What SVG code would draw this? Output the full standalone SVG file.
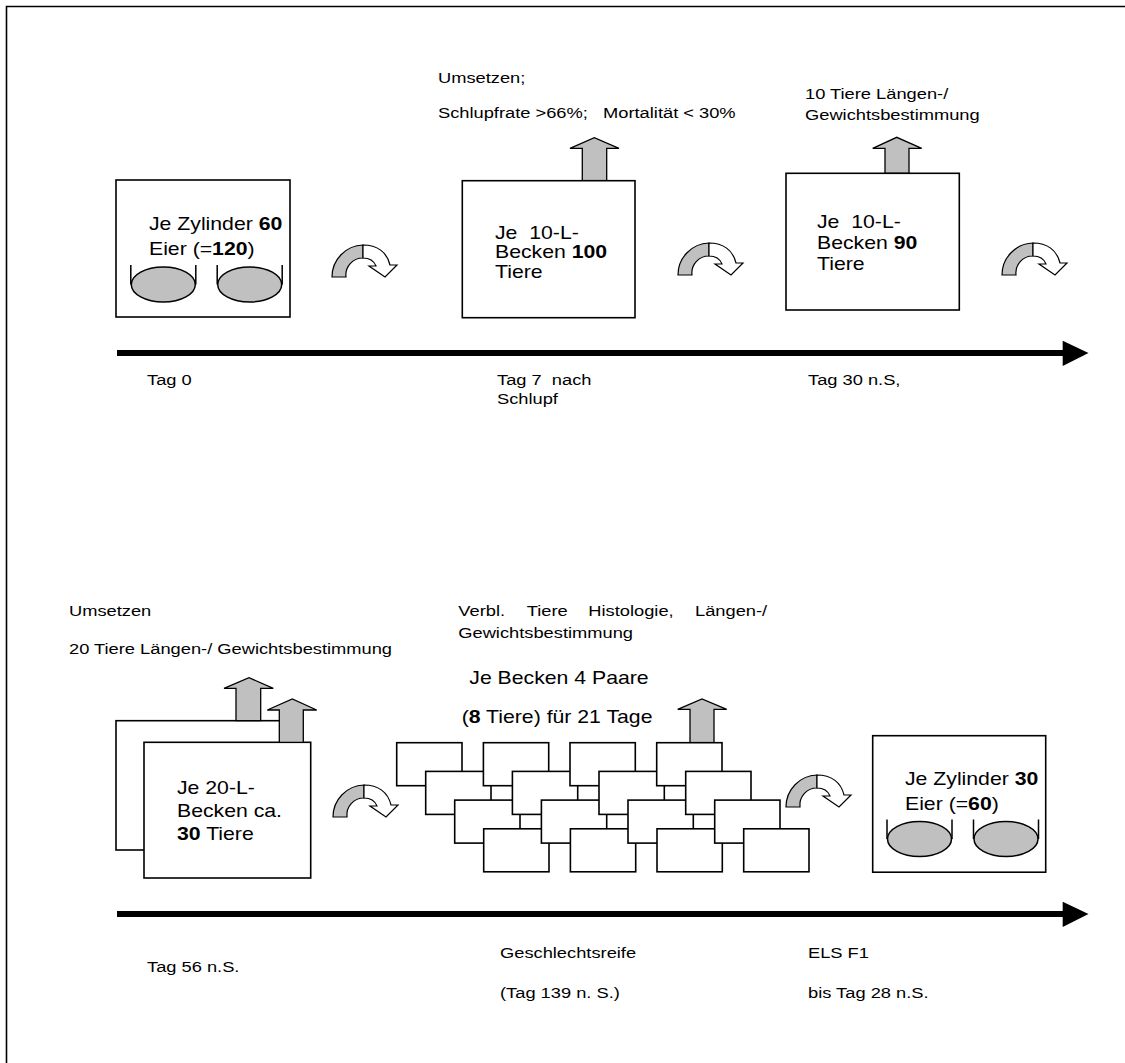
<svg xmlns="http://www.w3.org/2000/svg" xmlns:xlink="http://www.w3.org/1999/xlink" width="1125" height="1063" viewBox="0 0 1125 1063">
<style>
text{font-family:"Liberation Sans",Arial,sans-serif;fill:#000;white-space:pre}
.s{font-size:15.5px}
.b{font-size:18px}
.bx{fill:#fff;stroke:#000;stroke-width:1.6}
.up{fill:#c0c0c0;stroke:#000;stroke-width:1.3;stroke-linejoin:miter}
.egg{fill:#c0c0c0;stroke:#000;stroke-width:1.5}
.wall{stroke:#000;stroke-width:1.5;fill:none}
.tl{stroke:#000;stroke-width:6}
</style>
<defs>
<g id="ca">
<path d="M0,0 A32,32 0 0 1 31,-32 L31,-19 A17,17 0 0 0 14,0 Z" fill="#c0c0c0" stroke="#000" stroke-width="1.2"/>
<path d="M31,-32 C45,-32 55,-25 58,-12 L65,-12 L53,0 L37,-11 L44,-11 C42,-16 37,-19 31,-19 Z" fill="#fff" stroke="#000" stroke-width="1.2" stroke-linejoin="miter"/>
</g>
<g id="cyl">
<ellipse cx="0" cy="16.5" rx="32" ry="17.5" class="egg"/>
<path d="M-32.5,-3 V16.5 M32.5,-3 V16.5" class="wall"/>
</g>
</defs>
<rect width="1125" height="1063" fill="#fff"/>
<path d="M6.5,1063 V6.5 H1125" fill="none" stroke="#000" stroke-width="1.6"/>

<g id="connectors">
<line x1="117" y1="353" x2="1064" y2="353" class="tl"/>
<polygon points="1062.7,340.7 1088.5,353 1062.7,366"/>
<line x1="117" y1="914" x2="1064" y2="914" class="tl"/>
<polygon points="1062.7,901.7 1088.5,914 1062.7,927"/>
<use xlink:href="#ca" transform="translate(332,277)"/>
<use xlink:href="#ca" transform="translate(678,275)"/>
<use xlink:href="#ca" transform="translate(1002,275)"/>
<use xlink:href="#ca" transform="translate(333,817)"/>
<use xlink:href="#ca" transform="translate(786,807)"/>
</g>

<g id="node-tag0">
<rect x="116" y="180" width="174" height="137" class="bx"/>
<text class="b" transform="matrix(1.18 0 0 1 149 230)">Je Zylinder <tspan font-weight="bold">60</tspan></text>
<text class="b" transform="matrix(1.18 0 0 1 149 255)">Eier (=<tspan font-weight="bold">120</tspan>)</text>
<use xlink:href="#cyl" transform="translate(163.3,268)"/>
<use xlink:href="#cyl" transform="translate(249.7,268)"/>
<text class="s" transform="matrix(1.18 0 0 1 147 385)">Tag 0</text>
</g>

<g id="node-tag7">
<polygon class="up" points="582.3,180.7 582.3,148.3 570,148.3 594.3,137.7 619,148.3 606.7,148.3 606.7,180.7"/>
<rect x="462.3" y="180.7" width="172.7" height="137" class="bx"/>
<text class="b" transform="matrix(1.18 0 0 1 495 239)">Je  10-L-</text>
<text class="b" transform="matrix(1.18 0 0 1 495 258)">Becken <tspan font-weight="bold">100</tspan></text>
<text class="b" transform="matrix(1.18 0 0 1 495 278)">Tiere</text>
<text class="s" transform="matrix(1.18 0 0 1 438 83)">Umsetzen;</text>
<text class="s" transform="matrix(1.18 0 0 1 438 118)">Schlupfrate &gt;66%;   Mortalität &lt; 30%</text>
<text class="s" transform="matrix(1.18 0 0 1 497 385)">Tag 7  nach</text>
<text class="s" transform="matrix(1.18 0 0 1 497 404)">Schlupf</text>
</g>

<g id="node-tag30">
<polygon class="up" points="885,173.3 885,148.3 872.7,148.3 896.7,137.3 921.7,148.3 909,148.3 909,173.3"/>
<rect x="786" y="173.3" width="173.3" height="136.7" class="bx"/>
<text class="b" transform="matrix(1.18 0 0 1 817 228)">Je  10-L-</text>
<text class="b" transform="matrix(1.18 0 0 1 817 249)">Becken <tspan font-weight="bold">90</tspan></text>
<text class="b" transform="matrix(1.18 0 0 1 817 270)">Tiere</text>
<text class="s" transform="matrix(1.18 0 0 1 805 99)">10 Tiere Längen-/</text>
<text class="s" transform="matrix(1.18 0 0 1 805 120)">Gewichtsbestimmung</text>
<text class="s" transform="matrix(1.18 0 0 1 808 385)">Tag 30 n.S,</text>
</g>

<g id="node-tag56">
<rect x="116" y="720.7" width="164" height="129.3" class="bx"/>
<polygon class="up" points="236,720.7 236,688.3 224,688.3 249,677.7 273.3,688.3 260.7,688.3 260.7,720.7"/>
<rect x="144" y="742.3" width="166.7" height="135.7" class="bx"/>
<polygon class="up" points="279.3,742.3 279.3,710 267.3,710 292.3,699 316.7,710 303.3,710 303.3,742.3"/>
<text class="b" transform="matrix(1.18 0 0 1 177 794)">Je 20-L-</text>
<text class="b" transform="matrix(1.18 0 0 1 177 817)">Becken ca.</text>
<text class="b" transform="matrix(1.18 0 0 1 177 840)"><tspan font-weight="bold">30</tspan> Tiere</text>
<text class="s" transform="matrix(1.18 0 0 1 69 616)">Umsetzen</text>
<text class="s" transform="matrix(1.18 0 0 1 69 654)">20 Tiere Längen-/ Gewichtsbestimmung</text>
<text class="s" transform="matrix(1.18 0 0 1 147 972)">Tag 56 n.S.</text>
</g>

<g id="node-geschlechtsreife">
<polygon class="up" points="690,742.7 690,709.3 677.7,709.3 702,699 726.7,709.3 714,709.3 714,742.7"/>
<g class="bx">
<rect x="396.7" y="742.7" width="65.3" height="43"/>
<rect x="425.7" y="771.4" width="65.3" height="43"/>
<rect x="454.7" y="800.1" width="65.3" height="43"/>
<rect x="483.7" y="828.8" width="65.3" height="43"/>
<rect x="483.4" y="742.7" width="65.3" height="43"/>
<rect x="512.4" y="771.4" width="65.3" height="43"/>
<rect x="541.4" y="800.1" width="65.3" height="43"/>
<rect x="570.4" y="828.8" width="65.3" height="43"/>
<rect x="570" y="742.7" width="65.3" height="43"/>
<rect x="599" y="771.4" width="65.3" height="43"/>
<rect x="628" y="800.1" width="65.3" height="43"/>
<rect x="657" y="828.8" width="65.3" height="43"/>
<rect x="656.7" y="742.7" width="65.3" height="43"/>
<rect x="685.7" y="771.4" width="65.3" height="43"/>
<rect x="714.7" y="800.1" width="65.3" height="43"/>
<rect x="743.7" y="828.8" width="65.3" height="43"/>
</g>
<text class="s" transform="matrix(1.18 0 0 1 458.3 616)">Verbl.</text>
<text class="s" transform="matrix(1.18 0 0 1 526.7 616)">Tiere</text>
<text class="s" transform="matrix(1.18 0 0 1 588.3 616)">Histologie,</text>
<text class="s" transform="matrix(1.18 0 0 1 695 616)">Längen-/</text>
<text class="s" transform="matrix(1.18 0 0 1 458.3 638)">Gewichtsbestimmung</text>
<text class="b" transform="matrix(1.18 0 0 1 469.3 684)">Je Becken 4 Paare</text>
<text class="b" transform="matrix(1.18 0 0 1 461.7 723)">(<tspan font-weight="bold">8</tspan> Tiere) für 21 Tage</text>
<text class="s" transform="matrix(1.18 0 0 1 500 958)">Geschlechtsreife</text>
<text class="s" transform="matrix(1.18 0 0 1 500 998)">(Tag 139 n. S.)</text>
</g>

<g id="node-els-f1">
<rect x="872.7" y="735.7" width="173" height="136.5" class="bx"/>
<text class="b" transform="matrix(1.18 0 0 1 905 785)">Je Zylinder <tspan font-weight="bold">30</tspan></text>
<text class="b" transform="matrix(1.18 0 0 1 905 810)">Eier (=<tspan font-weight="bold">60</tspan>)</text>
<use xlink:href="#cyl" transform="translate(919.5,822.5)"/>
<use xlink:href="#cyl" transform="translate(1006,822.5)"/>
<text class="s" transform="matrix(1.18 0 0 1 808 958)">ELS F1</text>
<text class="s" transform="matrix(1.18 0 0 1 808 998)">bis Tag 28 n.S.</text>
</g>
</svg>
